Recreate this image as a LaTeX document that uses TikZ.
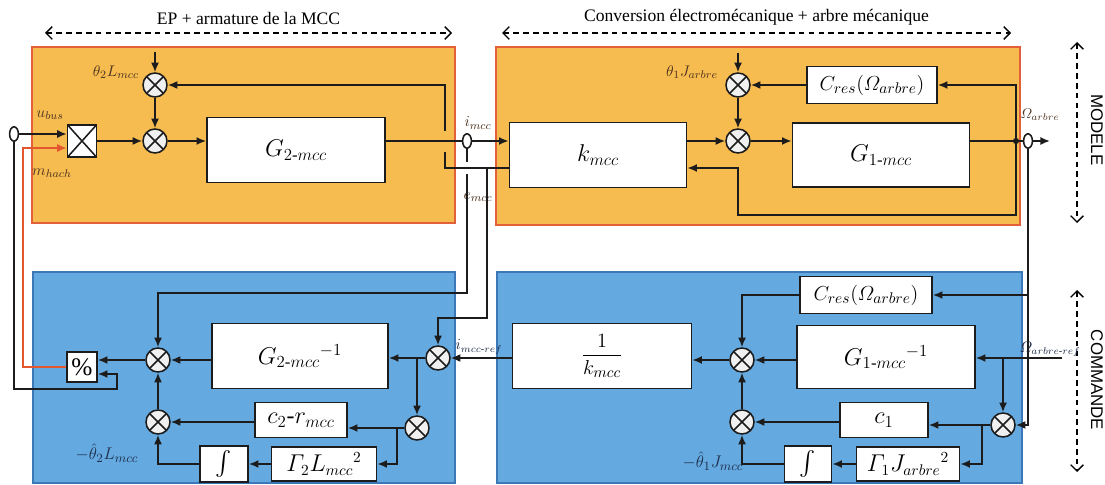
\documentclass[tikz,border=0pt]{standalone}
\usepackage{amsmath}
\usepackage{fontspec}
\setmainfont{Liberation Serif}
\setsansfont{Liberation Sans}
\usetikzlibrary{arrows.meta,positioning,shapes.geometric}
\definecolor{modelfill}{HTML}{F7BC4F}
\definecolor{modeledge}{HTML}{E2603A}
\definecolor{ctrlfill}{HTML}{64A9E0}
\definecolor{ctrledge}{HTML}{3C78B8}
\definecolor{sigline}{HTML}{1C1C1C}
\definecolor{hachred}{HTML}{E4572E}
\definecolor{lblbrown}{HTML}{4D3320}
\definecolor{lblnavy}{HTML}{1E2D4A}

\tikzset{
  sig/.style={line width=1.2pt, draw=sigline, -{Latex[length=2.4mm,width=2mm]}},
  wire/.style={line width=1.2pt, draw=sigline},
  blk/.style 2 args={draw=sigline, line width=1.2pt, fill=white, inner sep=0pt,
    minimum width=#1*0.025cm, minimum height=#2*0.025cm, font=\fontsize{17}{20}\selectfont},
  sumx/.style={circle, draw=sigline, line width=1.1pt, fill=gray!12, minimum size=0.6cm, inner sep=0pt,
    path picture={\draw[line width=1.1pt]
      (path picture bounding box.center) ++(-0.21cm,-0.21cm) -- ++(0.42cm,0.42cm)
      (path picture bounding box.center) ++(-0.21cm,0.21cm) -- ++(0.42cm,-0.42cm);}},
  sensor/.style={ellipse, draw=sigline, line width=1.1pt, minimum width=0.22cm, minimum height=0.36cm, inner sep=0pt},
  tag/.style={font=\fontsize{11}{12}\selectfont, text=lblbrown, inner sep=1pt},
  ctag/.style={font=\fontsize{10.5}{12}\selectfont, text=lblnavy, inner sep=1pt},
  spanarrow/.style={line width=0.9pt, dash pattern=on 4pt off 3pt,
    {Straight Barb[length=1.6mm,width=3.2mm]}-{Straight Barb[length=1.6mm,width=3.2mm]}},
}

\begin{document}
\begin{tikzpicture}[x=0.025cm, y=-0.025cm]
  \useasboundingbox (0,0) rectangle (1105,485);

  % Regions
  \draw[fill=modelfill, draw=modeledge, line width=1.2pt] (32,47) rectangle (455,223);
  \draw[fill=modelfill, draw=modeledge, line width=1.2pt] (496,47) rectangle (1020,225);
  \draw[fill=ctrlfill, draw=ctrledge, line width=1pt] (33,272) rectangle (455,483);
  \draw[fill=ctrlfill, draw=ctrledge, line width=1pt] (497,272) rectangle (1022,483);

  % Spans
  \draw[spanarrow] (45,33) -- node[above=2pt, font=\fontsize{12.5}{14}\selectfont] (tleft) {EP + armature de la MCC} (452,33);
  \draw[spanarrow] (502,33) -- node[above=2pt, font=\fontsize{12.5}{14}\selectfont] (tright) {Conversion électromécanique + arbre mécanique} (1011,33);
  \draw[spanarrow] (1077,42) -- (1077,223);
  \node[rotate=-90, font=\sffamily\fontsize{12}{14}\selectfont] (modele) at (1097,130) {MODELE};
  \draw[spanarrow] (1077,290) -- (1077,472);
  \node[rotate=-90, font=\sffamily\fontsize{12}{14}\selectfont] (commande) at (1097,380) {COMMANDE};

  % Model: EP + armature
  \node[sensor] (esens) at (14,134) {};
  \node[draw=sigline, line width=1.2pt, fill=white, minimum width=0.72cm, minimum height=0.8cm,
    path picture={\draw[line width=1.1pt] (path picture bounding box.north west) -- (path picture bounding box.south east)
      (path picture bounding box.south west) -- (path picture bounding box.north east);}] (mul) at (82,141) {};
  \node[sumx] (s2a) at (155,85) {};
  \node[sumx] (s2b) at (155,141) {};
  \node[blk={178}{65}] (G2) at (296,150) {$G_{2\text{-}mcc}$};
  \node[sensor] (isens) at (467,141) {};
  \node[tag] (lubus) at (50,115) {$u_{bus}$};
  \node[tag] (lmhach) at (52,173) {$m_{hach}$};
  \node[tag] (lth2) at (116,72) {$\theta_2 L_{mcc}$};
  \node[tag] (limcc) at (478,123) {$i_{mcc}$};
  \node[tag] (lemcc) at (478,197) {$e_{mcc}$};

  % Model: conversion + shaft
  \node[blk={177}{65}] (kmcc) at (598,155) {$k_{mcc}$};
  \node[sumx] (s1a) at (738,85) {};
  \node[sumx] (s1b) at (738,141) {};
  \node[blk={130}{37}, font=\fontsize{15}{18}\selectfont] (cres) at (872,85) {$C_{res}(\varOmega_{arbre})$};
  \node[blk={177}{64}] (G1) at (881,155) {$G_{1\text{-}mcc}$};
  \coordinate (wdot) at (1016,141);
  \node[sensor] (wsens) at (1028,141) {};
  \coordinate (wout) at (1050,141);
  \node[tag] (lth1) at (692,72) {$\theta_1 J_{arbre}$};
  \node[tag, font=\fontsize{10}{12}\selectfont] (lwarb) at (1040,115) {$\varOmega_{arbre}$};

  \draw[sig] (esens.east) -- (mul.west |- esens);
  \draw[sig] (mul.east) -- (s2b.west);
  \draw[sig] (155,52) -- (s2a.north);
  \draw[sig] (s2a.south) -- (s2b.north);
  \draw[sig] (s2b.east) -- (G2.west |- s2b);
  \draw[wire] (G2.east |- isens) -- (isens.west);
  \draw[sig] (isens.east) -- (kmcc.west |- isens);
  % back-emf loop, with a jump over the current line
  \draw[wire] (kmcc.west |- 0,168) -- (445,168) -- (445,152);
  \draw[sig] (445,131) -- (445,85) -- (s2a.east);

  \draw[sig] (738,53) -- (s1a.north);
  \draw[sig] (s1a.south) -- (s1b.north);
  \draw[sig] (kmcc.east |- s1b) -- (s1b.west);
  \draw[sig] (s1b.east) -- (G1.west |- s1b);
  \draw[wire] (G1.east |- wdot) -- (wdot) -- (wsens.west);
  \draw[sig] (wsens.east) -- (wout);
  \fill[sigline] (wdot) circle (2.2pt);
  \draw[sig] (wdot) -- (wdot |- cres) -- (cres.east);
  \draw[sig] (cres.west) -- (s1a.east);
  \draw[sig] (wdot) -- (1016,215) -- (738,215) -- (738,168) -- (kmcc.east |- 0,168);

  % Control: armature
  \node[draw=sigline, line width=1.2pt, fill=white, minimum width=0.75cm, minimum height=0.75cm,
    inner sep=0pt, font=\fontsize{18}{20}\selectfont] (pct) at (82,367) {\%};
  \node[sumx] (s3a) at (158,360) {};
  \node[sumx] (s3b) at (158,422) {};
  \node[blk={176}{65}] (G2inv) at (300,356) {$G_{2\text{-}mcc}{}^{-1}$};
  \node[sumx] (s3c) at (438,358) {};
  \node[sumx] (s3d) at (417,428) {};
  \node[blk={92}{35}] (c2r) at (301,420) {$c_{2}\text{-}r_{mcc}$};
  \node[blk={105}{34}, font=\fontsize{16}{18}\selectfont] (G2L) at (324,464) {$\varGamma_2 L_{mcc}{}^2$};
  \node[blk={48}{36}] (int2) at (224,464) {$\int$};
  \node[ctag, font=\fontsize{13}{14}\selectfont] (lth2h) at (107,453) {$-\hat{\theta}_2 L_{mcc}$};
  \node[ctag] (limref) at (479,347) {$i_{mcc\text{-}ref}$};

  % Control: conversion + shaft
  \node[blk={179}{65}, font=\fontsize{15}{18}\selectfont] (invk) at (602,356) {$\dfrac{1}{k_{mcc}}$};
  \node[sumx] (s4a) at (742,360) {};
  \node[sumx] (s4b) at (742,422) {};
  \node[blk={132}{37}, font=\fontsize{15}{18}\selectfont] (cres2) at (866,295) {$C_{res}(\varOmega_{arbre})$};
  \node[blk={178}{63}] (G1inv) at (886,357) {$G_{1\text{-}mcc}{}^{-1}$};
  \node[blk={88}{35}] (c1) at (884,420) {$c_1$};
  \node[sumx] (s4c) at (1003,425) {};
  \node[blk={103}{34}, font=\fontsize{16}{18}\selectfont] (G1J) at (908,464) {$\varGamma_1 J_{arbre}{}^2$};
  \node[blk={47}{36}] (int1) at (808,464) {$\int$};
  \coordinate (wref) at (1062,358);
  \node[ctag] (lwref) at (1050,349) {$\varOmega_{arbre\text{-}ref}$};
  \node[ctag, font=\fontsize{13}{14}\selectfont, anchor=east] (lth1h) at (745,461) {$-\hat{\theta}_1 J_{mcc}$};

  % measured currents to control
  \draw[wire] (isens.south) -- (467,162);
  \draw[sig] (467,174) -- (467,293) -- (158,293) -- (s3a.north);
  \draw[sig] (487,168) -- (487,318) -- (438,318) -- (s3c.north);

  \draw[sig] (s3c.west) -- (G2inv.east |- s3c);
  \draw[sig] (417,358) -- (s3d.north);
  \draw[wire] (s3d.west) -- (397,428);
  \draw[sig] (397,428) -- (c2r.east |- 0,428);
  \draw[sig] (397,428) |- (G2L.east);
  \draw[sig] (G2L.west) -- (int2.east);
  \draw[sig] (int2.west) -| (s3b.south);
  \draw[sig] (c2r.west |- s3b) -- (s3b.east);
  \draw[sig] (s3b.north) -- (s3a.south);
  \draw[sig] (G2inv.west |- s3a) -- (s3a.east);
  \draw[sig] (s3a.west) -- (pct.east |- s3a);
  \draw[sig] (esens.south) -- (14,389) -- (117,389) -- (117,374) -- (pct.east |- 0,374);
  \draw[sig, draw=hachred] (pct.west) -- (23,367) -- (23,148) -- (mul.west |- 0,148);

  % measured speed to control
  \draw[sig] (wsens.south) -- (1028,425) -- (s4c.east);
  \draw[sig] (1028,295) -- (cres2.east);
  \draw[sig] (wref) -- (G1inv.east |- wref);
  \draw[sig] (1003,358) -- (s4c.north);
  \draw[sig] (G1inv.west |- s4a) -- (s4a.east);
  \draw[sig] (cres2.west) -| (s4a.north);
  \draw[sig] (s4a.west) -- (invk.east |- s4a);
  \draw[sig] (s4c.west) -- (c1.east |- s4c);
  \draw[sig] (982,425) |- (G1J.east);
  \draw[sig] (G1J.west) -- (int1.east);
  \draw[sig] (int1.west) -| (s4b.south);
  \draw[sig] (c1.west |- s4b) -- (s4b.east);
  \draw[sig] (s4b.north) -- (s4a.south);
  \draw[sig] (invk.west |- s3c) -- (s3c.east);
\end{tikzpicture}
\end{document}
